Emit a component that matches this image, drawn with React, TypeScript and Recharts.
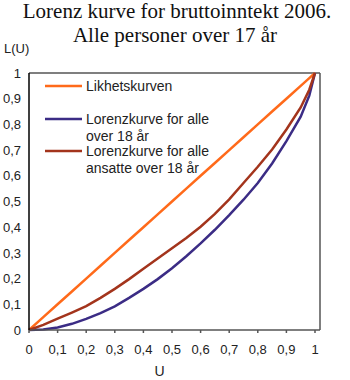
import React from "react";
import { LineChart, Line, XAxis, YAxis, ReferenceLine } from "recharts";

const uValues = [0, 0.05, 0.1, 0.15, 0.2, 0.25, 0.3, 0.35, 0.4, 0.45, 0.5, 0.55, 0.6, 0.65, 0.7, 0.75, 0.8, 0.85, 0.9, 0.95, 0.98, 1];
const equality = [0, 0.05, 0.1, 0.15, 0.2, 0.25, 0.3, 0.35, 0.4, 0.45, 0.5, 0.55, 0.6, 0.65, 0.7, 0.75, 0.8, 0.85, 0.9, 0.95, 0.98, 1];
const allOver18 = [0, 0.002, 0.01, 0.024, 0.043, 0.066, 0.092, 0.125, 0.16, 0.198, 0.24, 0.287, 0.337, 0.39, 0.447, 0.507, 0.572, 0.648, 0.735, 0.83, 0.912, 1];
const employedOver18 = [0, 0.02, 0.044, 0.068, 0.093, 0.125, 0.16, 0.198, 0.238, 0.278, 0.318, 0.358, 0.402, 0.452, 0.508, 0.572, 0.635, 0.702, 0.78, 0.866, 0.935, 1];
const tickValues = [0, 0.1, 0.2, 0.3, 0.4, 0.5, 0.6, 0.7, 0.8, 0.9, 1];

const seriesNames = ["Likhetskurven", "Lorenzkurve for alle over 18 år", "Lorenzkurve for alle ansatte over 18 år"];
const seriesKeys = ["eq", "all", "emp"];
const seriesColors = ["#FF6A1A", "#3B2C85", "#A3341C"];
const legendLines = [["Likhetskurven"], ["Lorenzkurve for alle", "over 18 år"], ["Lorenzkurve for alle", "ansatte over 18 år"]];

const data = uValues.map((u, i) => ({ u, eq: equality[i], all: allOver18[i], emp: employedOver18[i] }));

const fmt = (v: number) => String(Math.round(v * 10) / 10).replace(".", ",");

const sans = "'Liberation Sans', Arial, sans-serif";

export default function App() {
  const legendY = [86, 119, 151];
  return (
    <div style={{ position: "absolute", left: 0, top: 0, width: 350, height: 380, background: "#fff" }}>
      <LineChart width={350} height={380} data={data} margin={{ top: 73, right: 0, bottom: 0, left: 0 }}>
        <XAxis
          dataKey="u"
          type="number"
          domain={[0, 1.0175]}
          ticks={tickValues}
          tickFormatter={fmt}
          height={50}
          stroke="#555"
          strokeWidth={1.5}
          tickSize={3}
          tickMargin={12}
          tick={{ fill: "#222", fontSize: 13, fontFamily: sans }}
          label={{ value: "U", position: "insideBottom", offset: 4, dx: -15, fill: "#222", fontSize: 14, fontFamily: sans }}
        />
        <YAxis
          yAxisId="left"
          type="number"
          domain={[0, 1]}
          ticks={tickValues}
          tickFormatter={fmt}
          width={29}
          stroke="#000"
          strokeWidth={1.5}
          tickLine={false}
          tickSize={6}
          tickMargin={2}
          tick={{ fill: "#222", fontSize: 13, fontFamily: sans }}
        />
        <YAxis
          yAxisId="right"
          orientation="right"
          type="number"
          domain={[0, 1]}
          ticks={tickValues}
          tickFormatter={fmt}
          width={30}
          stroke="#555"
          strokeWidth={1.5}
          tickSize={4}
          tickMargin={5}
          tick={{ fill: "#222", fontSize: 13, fontFamily: sans, textAnchor: "start" }}
        />
        <ReferenceLine yAxisId="left" y={1} stroke="#555" strokeWidth={1.5} />
        {seriesKeys.map((k, i) => (
          <Line
            key={k}
            yAxisId="left"
            type="linear"
            dataKey={k}
            name={seriesNames[i]}
            stroke={seriesColors[i]}
            strokeWidth={2.5}
            dot={false}
            isAnimationActive={false}
          />
        ))}
      </LineChart>
      <svg width={350} height={380} style={{ position: "absolute", left: 0, top: 0, pointerEvents: "none" }}>
        <text x={177} y={18} textAnchor="middle" fontFamily="'Liberation Serif', 'Times New Roman', serif" fontSize={21} fill="#111">
          Lorenz kurve for bruttoinntekt 2006.
        </text>
        <text x={175} y={42} textAnchor="middle" fontFamily="'Liberation Serif', 'Times New Roman', serif" fontSize={21} fill="#111">
          Alle personer over 17 år
        </text>
        <text x={4} y={53} fontFamily={sans} fontSize={13} fill="#222">L(U)</text>
        {legendLines.map((lines, i) => (
          <g key={i}>
            <line x1={45} x2={82} y1={legendY[i]} y2={legendY[i]} stroke={seriesColors[i]} strokeWidth={2.5} />
            {lines.map((t, j) => (
              <text key={j} x={86} y={legendY[i] + 5 + j * 17} fontFamily={sans} fontSize={14} fill="#222">{t}</text>
            ))}
          </g>
        ))}
      </svg>
    </div>
  );
}
